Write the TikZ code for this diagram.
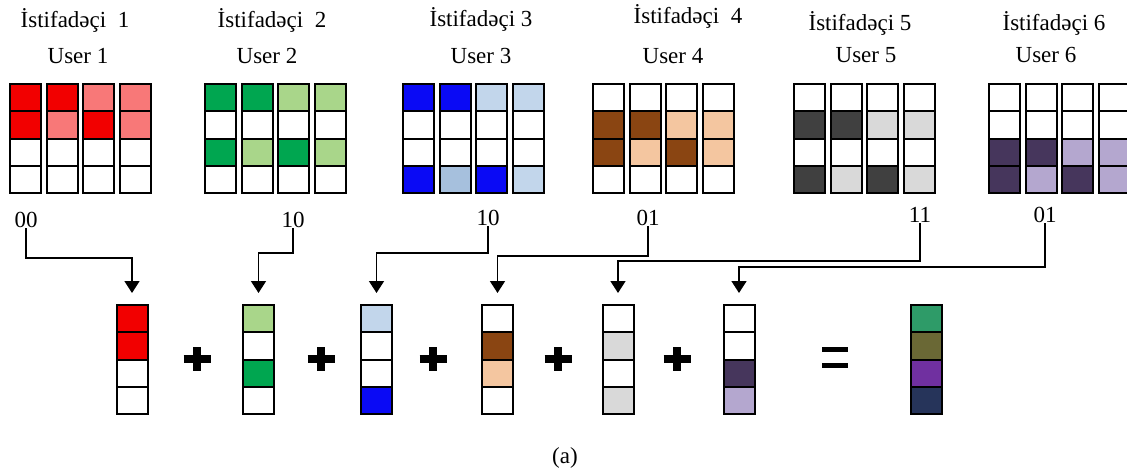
\documentclass[tikz,border=0pt]{standalone}
\usepackage{fontspec}
\setmainfont{Liberation Serif}
\usetikzlibrary{
		arrows.meta,
		positioning
	}
\tikzset{
		>=Triangle
	}
\definecolor{redD}{HTML}{F20000}
\definecolor{redL}{HTML}{F87878}
\definecolor{greenD}{HTML}{00A650}
\definecolor{greenL}{HTML}{A9D68A}
\definecolor{blueD}{HTML}{0A0AF5}
\definecolor{blueL}{HTML}{C2D6EB}
\definecolor{blueM}{HTML}{A6C0DD}
\definecolor{brownD}{HTML}{8A4512}
\definecolor{brownL}{HTML}{F4C6A0}
\definecolor{grayD}{HTML}{404040}
\definecolor{grayL}{HTML}{D9D9D9}
\definecolor{purpD}{HTML}{46365C}
\definecolor{purpL}{HTML}{B4A7CF}
\definecolor{resA}{HTML}{2E9B68}
\definecolor{resB}{HTML}{6A6835}
\definecolor{resC}{HTML}{7030A0}
\definecolor{resD}{HTML}{26345A}
% one column of four cells: left x, top y, fills
\newcommand{\usercol}[3]{%
  \foreach \c [count=\k from 0] in {#3}
    \draw[cell,fill=\c] (#1+1,#2+1+\k*27.25) rectangle ++(31,27.25);
}

\begin{document}
\begin{tikzpicture}[x=1pt,y=-1pt,
    cell/.style={draw=black,line width=2pt},
    lbl/.style={font=\fontsize{23}{26}\selectfont,anchor=base,inner sep=1pt},
    sumbox/.style={draw=black,line width=2pt,minimum width=31pt,minimum height=109pt,inner sep=0pt},
    link/.style={line width=1.6pt,-{Triangle[length=12pt,width=15pt]}},
    sign/.style={line width=7.5pt}]
          \clip (0,0) rectangle (1127,474);

          % titles
          \node[lbl] (i1) at (75,27) {İstifadəçi~ 1};
          \node[lbl] (u1) at (78,63) {User 1};
          \node[lbl] (i2) at (272,27) {İstifadəçi~ 2};
          \node[lbl] (u2) at (267,63) {User 2};
          \node[lbl] (i3) at (481,26) {İstifadəçi 3};
          \node[lbl] (u3) at (481,63) {User 3};
          \node[lbl] (i4) at (688,23) {İstifadəçi~ 4};
          \node[lbl] (u4) at (673,63) {User 4};
          \node[lbl] (i5) at (860,30) {İstifadəçi 5};
          \node[lbl] (u5) at (866,62) {User 5};
          \node[lbl] (i6) at (1054,30) {İstifadəçi 6};
          \node[lbl] (u6) at (1046,62) {User 6};

          % user 1
          \usercol{9}{83}{redD,redD,white,white}
          \usercol{45.5}{83}{redD,redL,white,white}
          \usercol{82}{83}{redL,redD,white,white}
          \usercol{118.5}{83}{redL,redL,white,white}
          % user 2
          \usercol{204}{83}{greenD,white,greenD,white}
          \usercol{240.5}{83}{greenD,white,greenL,white}
          \usercol{277}{83}{greenL,white,greenD,white}
          \usercol{313.5}{83}{greenL,white,greenL,white}
          % user 3
          \usercol{402}{83}{blueD,white,white,blueD}
          \usercol{438.5}{83}{blueD,white,white,blueM}
          \usercol{475}{83}{blueL,white,white,blueD}
          \usercol{511.5}{83}{blueL,white,white,blueL}
          % user 4
          \usercol{592}{83}{white,brownD,brownD,white}
          \usercol{628.5}{83}{white,brownD,brownL,white}
          \usercol{665}{83}{white,brownL,brownD,white}
          \usercol{701.5}{83}{white,brownL,brownL,white}
          % user 5
          \usercol{793}{83}{white,grayD,white,grayD}
          \usercol{829.5}{83}{white,grayD,white,grayL}
          \usercol{866}{83}{white,grayL,white,grayD}
          \usercol{902.5}{83}{white,grayL,white,grayL}
          % user 6
          \usercol{988}{83}{white,white,purpD,purpD}
          \usercol{1024.5}{83}{white,white,purpD,purpL}
          \usercol{1061}{83}{white,white,purpL,purpD}
          \usercol{1097.5}{83}{white,white,purpL,purpL}

          % codes
          \node[lbl] (c1) at (26,227) {00};
          \node[lbl] (c2) at (293,227) {10};
          \node[lbl] (c3) at (488,225) {10};
          \node[lbl] (c4) at (648,225) {01};
          \node[lbl] (c5) at (920,222) {11};
          \node[lbl] (c6) at (1045,222) {01};

          % picked columns
          \usercol{115.5}{304}{redD,redD,white,white}
          \usercol{242}{304}{greenL,white,greenD,white}
          \usercol{360}{304}{blueL,white,white,blueD}
          \usercol{481}{304}{white,brownD,brownL,white}
          \usercol{601.5}{304}{white,grayL,white,grayL}
          \usercol{722.5}{304}{white,white,purpD,purpL}
          \usercol{909.5}{304}{resA,resB,resC,resD}
          \node[sumbox] (s1) at (132,359.5) {};
          \node[sumbox] (s2) at (258.5,359.5) {};
          \node[sumbox] (s3) at (376.5,359.5) {};
          \node[sumbox] (s4) at (497.5,359.5) {};
          \node[sumbox] (s5) at (618,359.5) {};
          \node[sumbox] (s6) at (739,359.5) {};
          \node[sumbox] (r) at (926,359.5) {};

          \draw[link] (c1.south) |- ([yshift=46pt]s1.north) -- ([yshift=11pt]s1.north);
          \draw[link] (c2.south) |- ([yshift=51pt]s2.north) -- ([yshift=11pt]s2.north);
          \draw[link] (c3.south) |- ([yshift=51pt]s3.north) -- ([yshift=11pt]s3.north);
          \draw[link] (c4.south) |- ([yshift=48pt]s4.north) -- ([yshift=11pt]s4.north);
          \draw[link] (c5.south) |- ([yshift=43pt]s5.north) -- ([yshift=11pt]s5.north);
          \draw[link] (c6.south) |- ([yshift=37pt]s6.north) -- ([yshift=11pt]s6.north);

          % plus and equals signs
          \foreach \x in {197,321,433,558,677}
            \draw[sign] (\x-13.5,359) -- (\x+13.5,359) (\x,347) -- (\x,371);
          \draw[line width=5pt] (822,349.5) -- (848,349.5) (822,365.5) -- (848,365.5);

          \node[lbl] (cap) at (565,463) {(a)};
          \end{tikzpicture}
\end{document}
